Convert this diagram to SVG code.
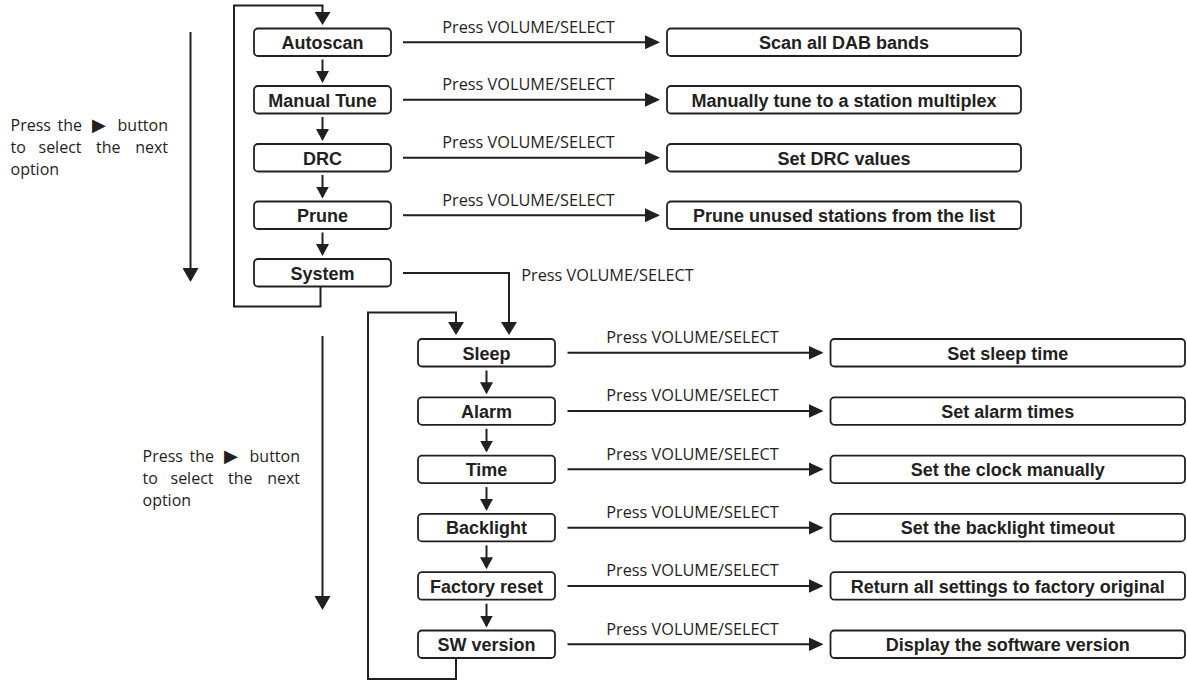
<svg xmlns="http://www.w3.org/2000/svg" width="1187" height="681" viewBox="0 0 1187 681">
<style>
  .box { fill: #ffffff; stroke: #231f20; stroke-width: 1.8; }
  .bt { font-family: "Liberation Sans", Arial, sans-serif; font-weight: bold; font-size: 18px; fill: #231f20; text-anchor: middle; }
  .lbl { font-family: "Open Sans", "Noto Sans", sans-serif; font-size: 16.3px; fill: #231f20; text-anchor: middle; }
  .side { font-family: "Open Sans", "Noto Sans", sans-serif; font-size: 16px; fill: #231f20; }
  .sym { font-family: "DejaVu Sans", sans-serif; font-size: 18px; fill: #231f20; }
  .ln { fill: none; stroke: #231f20; stroke-width: 2; }
  .h { marker-end: url(#ah); }
  .v { marker-end: url(#av); }
  .big { marker-end: url(#ab); }
  .long { marker-end: url(#al); }
</style>
<defs>
  <marker id="ah" markerUnits="userSpaceOnUse" markerWidth="15" markerHeight="14" refX="13" refY="7" orient="auto">
    <path d="M0,0 L15,7 L0,14 Z" fill="#231f20"/>
  </marker>
  <marker id="av" markerUnits="userSpaceOnUse" markerWidth="12" markerHeight="13" refX="10" refY="6.5" orient="auto">
    <path d="M0,0 L12,6.5 L0,13 Z" fill="#231f20"/>
  </marker>
  <marker id="ab" markerUnits="userSpaceOnUse" markerWidth="13" markerHeight="16" refX="11" refY="8" orient="auto">
    <path d="M0,0 L13,8 L0,16 Z" fill="#231f20"/>
  </marker>
  <marker id="al" markerUnits="userSpaceOnUse" markerWidth="14" markerHeight="16" refX="12" refY="8" orient="auto">
    <path d="M0,0 L14,8 L0,16 Z" fill="#231f20"/>
  </marker>
</defs>

<!-- side notes -->
<g id="note1">
  <text class="side" x="10.5" y="131">Press</text>
  <text class="side" x="57.5" y="131">the</text>
  <text class="sym" x="92" y="131">▶</text>
  <text class="side" x="168" y="131" text-anchor="end">button</text>
  <text class="side" x="10.5" y="153">to</text>
  <text class="side" x="38.5" y="153">select</text>
  <text class="side" x="96" y="153">the</text>
  <text class="side" x="168" y="153" text-anchor="end">next</text>
  <text class="side" x="10.5" y="175">option</text>
</g>
<g id="note2">
  <text class="side" x="142.5" y="462">Press</text>
  <text class="side" x="189.5" y="462">the</text>
  <text class="sym" x="224" y="462">▶</text>
  <text class="side" x="300" y="462" text-anchor="end">button</text>
  <text class="side" x="142.5" y="484">to</text>
  <text class="side" x="170.5" y="484">select</text>
  <text class="side" x="228" y="484">the</text>
  <text class="side" x="300" y="484" text-anchor="end">next</text>
  <text class="side" x="142.5" y="506">option</text>
</g>

<!-- connectors -->
<g id="connectors">
  <!-- section 1 -->
  <line class="ln long" x1="190.5" y1="32" x2="190.5" y2="280"/>
  <path class="ln big" d="M320.5,287 V306.5 H234 V5.5 H322.5 V23"/>
  <line class="ln v" x1="322.5" y1="59.5" x2="322.5" y2="81"/>
  <line class="ln v" x1="322.5" y1="117" x2="322.5" y2="139"/>
  <line class="ln v" x1="322.5" y1="175" x2="322.5" y2="196.5"/>
  <line class="ln v" x1="322.5" y1="232.5" x2="322.5" y2="254"/>
  <line class="ln h" x1="403" y1="42.25" x2="658" y2="42.25"/>
  <line class="ln h" x1="403" y1="99.75" x2="658" y2="99.75"/>
  <line class="ln h" x1="403" y1="157.75" x2="658" y2="157.75"/>
  <line class="ln h" x1="403" y1="215.25" x2="658" y2="215.25"/>
  <path class="ln big" d="M403,273 H509 V333"/>
  <!-- section 2 -->
  <line class="ln long" x1="322.5" y1="336" x2="322.5" y2="608"/>
  <path class="ln big" d="M456,658 V679 H368 V312.5 H456 V333"/>
  <line class="ln v" x1="486.5" y1="370.5" x2="486.5" y2="392.3"/>
  <line class="ln v" x1="486.5" y1="428.8" x2="486.5" y2="450.6"/>
  <line class="ln v" x1="486.5" y1="487.1" x2="486.5" y2="508.9"/>
  <line class="ln v" x1="486.5" y1="545.4" x2="486.5" y2="567.2"/>
  <line class="ln v" x1="486.5" y1="603.7" x2="486.5" y2="625.5"/>
  <line class="ln h" x1="567.5" y1="352.75" x2="821.5" y2="352.75"/>
  <line class="ln h" x1="567.5" y1="411.05" x2="821.5" y2="411.05"/>
  <line class="ln h" x1="567.5" y1="469.35" x2="821.5" y2="469.35"/>
  <line class="ln h" x1="567.5" y1="527.65" x2="821.5" y2="527.65"/>
  <line class="ln h" x1="567.5" y1="585.95" x2="821.5" y2="585.95"/>
  <line class="ln h" x1="567.5" y1="644.25" x2="821.5" y2="644.25"/>
  <!-- labels -->
  <text class="lbl" x="528.5" y="32.5">Press VOLUME/SELECT</text>
  <text class="lbl" x="528.5" y="90">Press VOLUME/SELECT</text>
  <text class="lbl" x="528.5" y="148">Press VOLUME/SELECT</text>
  <text class="lbl" x="528.5" y="205.5">Press VOLUME/SELECT</text>
  <text class="lbl" x="607.5" y="280.5">Press VOLUME/SELECT</text>
  <text class="lbl" x="692.5" y="343">Press VOLUME/SELECT</text>
  <text class="lbl" x="692.5" y="401.3">Press VOLUME/SELECT</text>
  <text class="lbl" x="692.5" y="459.6">Press VOLUME/SELECT</text>
  <text class="lbl" x="692.5" y="517.9">Press VOLUME/SELECT</text>
  <text class="lbl" x="692.5" y="576.2">Press VOLUME/SELECT</text>
  <text class="lbl" x="692.5" y="634.5">Press VOLUME/SELECT</text>
</g>

<!-- section 1 nodes -->
<g id="autoscan"><rect class="box" x="254" y="28.5" width="137" height="27.5" rx="4"/><text class="bt" x="322.5" y="49">Autoscan</text></g>
<g id="manual-tune"><rect class="box" x="254" y="86" width="137" height="27.5" rx="4"/><text class="bt" x="322.5" y="106.5">Manual Tune</text></g>
<g id="drc"><rect class="box" x="254" y="144" width="137" height="27.5" rx="4"/><text class="bt" x="322.5" y="164.5">DRC</text></g>
<g id="prune"><rect class="box" x="254" y="201.5" width="137" height="27.5" rx="4"/><text class="bt" x="322.5" y="222">Prune</text></g>
<g id="system"><rect class="box" x="254" y="259" width="137" height="27.5" rx="4"/><text class="bt" x="322.5" y="279.5">System</text></g>

<g id="scan-all"><rect class="box" x="667" y="28.5" width="354" height="27.5" rx="4"/><text class="bt" x="844" y="49">Scan all DAB bands</text></g>
<g id="manual-tune-desc"><rect class="box" x="667" y="86" width="354" height="27.5" rx="4"/><text class="bt" x="844" y="106.5">Manually tune to a station multiplex</text></g>
<g id="drc-desc"><rect class="box" x="667" y="144" width="354" height="27.5" rx="4"/><text class="bt" x="844" y="164.5">Set DRC values</text></g>
<g id="prune-desc"><rect class="box" x="667" y="201.5" width="354" height="27.5" rx="4"/><text class="bt" x="844" y="222">Prune unused stations from the list</text></g>

<!-- section 2 nodes -->
<g id="sleep"><rect class="box" x="418" y="339" width="137" height="27.5" rx="4"/><text class="bt" x="486.5" y="359.5">Sleep</text></g>
<g id="alarm"><rect class="box" x="418" y="397.3" width="137" height="27.5" rx="4"/><text class="bt" x="486.5" y="417.8">Alarm</text></g>
<g id="time"><rect class="box" x="418" y="455.6" width="137" height="27.5" rx="4"/><text class="bt" x="486.5" y="476.1">Time</text></g>
<g id="backlight"><rect class="box" x="418" y="513.9" width="137" height="27.5" rx="4"/><text class="bt" x="486.5" y="534.4">Backlight</text></g>
<g id="factory-reset"><rect class="box" x="418" y="572.2" width="137" height="27.5" rx="4"/><text class="bt" x="486.5" y="592.7">Factory reset</text></g>
<g id="sw-version"><rect class="box" x="418" y="630.5" width="137" height="27.5" rx="4"/><text class="bt" x="486.5" y="651">SW version</text></g>

<g id="sleep-desc"><rect class="box" x="830.5" y="339" width="354.5" height="27.5" rx="4"/><text class="bt" x="1007.75" y="359.5">Set sleep time</text></g>
<g id="alarm-desc"><rect class="box" x="830.5" y="397.3" width="354.5" height="27.5" rx="4"/><text class="bt" x="1007.75" y="417.8">Set alarm times</text></g>
<g id="time-desc"><rect class="box" x="830.5" y="455.6" width="354.5" height="27.5" rx="4"/><text class="bt" x="1007.75" y="476.1">Set the clock manually</text></g>
<g id="backlight-desc"><rect class="box" x="830.5" y="513.9" width="354.5" height="27.5" rx="4"/><text class="bt" x="1007.75" y="534.4">Set the backlight timeout</text></g>
<g id="factory-desc"><rect class="box" x="830.5" y="572.2" width="354.5" height="27.5" rx="4"/><text class="bt" x="1007.75" y="592.7">Return all settings to factory original</text></g>
<g id="sw-desc"><rect class="box" x="830.5" y="630.5" width="354.5" height="27.5" rx="4"/><text class="bt" x="1007.75" y="651">Display the software version</text></g>
</svg>
